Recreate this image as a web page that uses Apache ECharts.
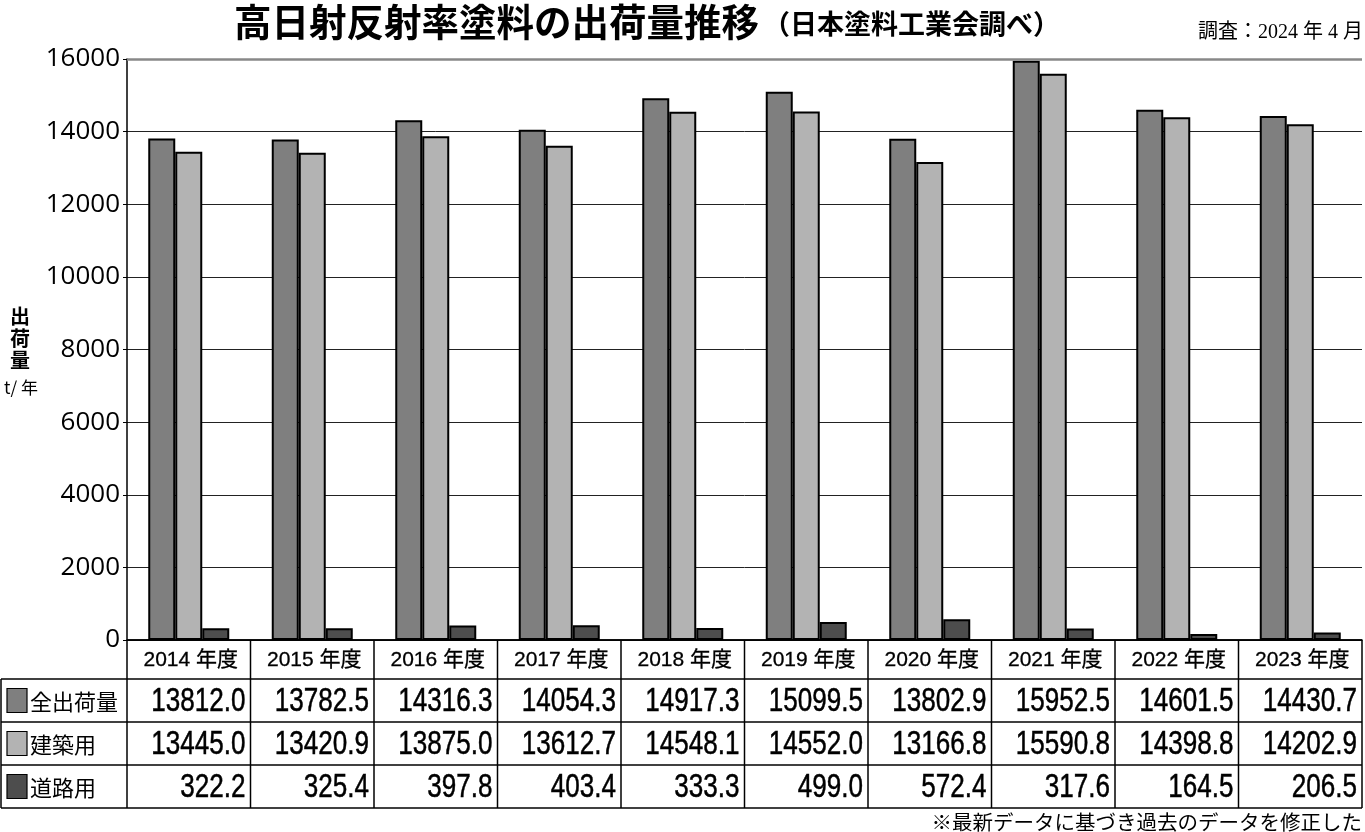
<!DOCTYPE html>
<html>
<head>
<meta charset="utf-8">
<script src="https://cdn.jsdelivr.net/npm/echarts@6/dist/echarts.min.js"></script>
<style>
html,body{margin:0;padding:0;background:#fff;}
#main{width:1365px;height:832px;}
</style>
</head>
<body>
<div id="main"></div>
<script>
// ---- data ----
const categories = ['2014 年度','2015 年度','2016 年度','2017 年度','2018 年度','2019 年度','2020 年度','2021 年度','2022 年度','2023 年度'];
const seriesNames = ['全出荷量','建築用','道路用'];
const totalShipment = [13812.0,13782.5,14316.3,14054.3,14917.3,15099.5,13802.9,15952.5,14601.5,14430.7];
const buildingUse = [13445.0,13420.9,13875.0,13612.7,14548.1,14552.0,13166.8,15590.8,14398.8,14202.9];
const roadUse = [322.2,325.4,397.8,403.4,333.3,499.0,572.4,317.6,164.5,206.5];
const yMin = 0, yMax = 16000, yStep = 2000;
const titleMain = '高日射反射率塗料の出荷量推移';
const titleSub = '（日本塗料工業会調べ）';
const surveyNote = '調査：2024 年 4 月';
const footNote = '※最新データに基づき過去のデータを修正した';
const yAxisName = ['出','荷','量'];
const yAxisUnit = 't/ 年';

// ---- styles ----
const colors = ['#7f7f7f','#b3b3b3','#4d4d4d'];
const SANS = '"Liberation Sans", Arial, "Noto Sans CJK JP", sans-serif';
const CJK = '"Noto Sans CJK JP", "Liberation Sans", sans-serif';

const chart = echarts.init(document.getElementById('main'), null, {renderer:'canvas'});
const seriesData = [totalShipment, buildingUse, roadUse];

const option = {
  backgroundColor:'#fff',
  animation:false,
  grid:{left:127, right:3, top:59, bottom:192, containLabel:false},
  xAxis:{
    type:'category', data:categories,
    axisLine:{show:true, lineStyle:{color:'#000', width:1.5}},
    axisTick:{show:false},
    axisLabel:{show:false},
    splitLine:{show:false}
  },
  yAxis:{
    type:'value', min:yMin, max:yMax, interval:yStep,
    axisLine:{show:true, lineStyle:{color:'#000', width:1.5}},
    axisTick:{show:true, length:4, lineStyle:{color:'#000'}},
    axisLabel:{color:'#000', fontSize:26, fontFamily:'"Open Sans", "Liberation Sans", sans-serif', margin:7,
      formatter:function(v){ return String(v); }},
    splitLine:{show:true, lineStyle:{color:'#222', width:1}}
  },
  series: seriesNames.map((name,i)=>({
    name:name, type:'bar', data:seriesData[i],
    barWidth:27, barGap:'0%',
    itemStyle:{color:colors[i], borderColor:'#000', borderWidth:2},
    markLine: i===0 ? {
      silent:true, symbol:'none', label:{show:false},
      lineStyle:{color:'#888', width:2.5, type:'solid'},
      data:[{yAxis:yMax}]
    } : undefined
  }))
};
chart.setOption(option);

// ---- table built from the axis layout ----
const c0 = chart.convertToPixel({xAxisIndex:0}, 0);
const c1 = chart.convertToPixel({xAxisIndex:0}, 1);
const colW = c1 - c0;
const gridLeft = c0 - colW/2;
const gridRight = gridLeft + colW*categories.length;
const y0 = chart.convertToPixel({yAxisIndex:0}, 0);
const headerH = 39, rowH = 43;
const rowTops = [y0 + headerH, y0 + headerH + rowH, y0 + headerH + 2*rowH];
const tableBottom = y0 + headerH + 3*rowH;
const lineStyle = {stroke:'#000', lineWidth:1.5};
const g = [];

// horizontal lines
g.push({type:'line', shape:{x1:gridLeft, y1:y0, x2:gridRight, y2:y0}, style:lineStyle});
rowTops.forEach(t=>g.push({type:'line', shape:{x1:1, y1:t, x2:gridRight, y2:t}, style:lineStyle}));
g.push({type:'line', shape:{x1:1, y1:tableBottom, x2:gridRight, y2:tableBottom}, style:lineStyle});
// vertical lines
for(let i=0;i<=categories.length;i++){
  const x = gridLeft + i*colW;
  g.push({type:'line', shape:{x1:x, y1:y0, x2:x, y2:tableBottom}, style:lineStyle});
}
g.push({type:'line', shape:{x1:1, y1:rowTops[0], x2:1, y2:tableBottom}, style:lineStyle});

// header labels
categories.forEach((c,i)=>{
  g.push({type:'text', x:chart.convertToPixel({xAxisIndex:0}, i)+2, y:y0 + headerH/2 + 1,
    style:{text:c, fill:'#000', font:'21px '+SANS, align:'center', verticalAlign:'middle', stroke:'#000', lineWidth:0.3}});
});
// row labels with legend boxes
seriesNames.forEach((n,r)=>{
  const cy = rowTops[r] + rowH/2;
  g.push({type:'rect', shape:{x:7, y:cy-12, width:20, height:24}, style:{fill:colors[r], stroke:'#000', lineWidth:1.2}});
  g.push({type:'text', x:30, y:cy+1, style:{text:n, fill:'#000', font:'22px '+CJK, align:'left', verticalAlign:'middle'}});
  seriesData[r].forEach((v,i)=>{
    const right = gridLeft + (i+1)*colW - 5;
    g.push({type:'text', x:right, y:cy+1, scaleX:0.79,
      style:{text:v.toFixed(1), fill:'#000', font:'33px '+SANS, align:'right', verticalAlign:'middle', stroke:'#000', lineWidth:0.5}});
  });
});

// y axis name
yAxisName.forEach((ch,k)=>{
  g.push({type:'text', x:20, y:316 + k*22, style:{text:ch, fill:'#000', font:'bold 20px '+CJK, align:'center', verticalAlign:'middle'}});
});
g.push({type:'text', x:21, y:388, style:{text:yAxisUnit, fill:'#000', font:'17px '+CJK, align:'center', verticalAlign:'middle'}});

// titles
g.push({type:'text', x:234, y:22, style:{
  text:'{a|'+titleMain+'}{b|'+titleSub+'}', verticalAlign:'middle', align:'left',
  rich:{a:{font:'bold 37.5px '+CJK, color:'#000'}, b:{font:'bold 27px '+CJK, color:'#000', padding:[4,0,0,4]}}
}});
g.push({type:'text', x:1363, y:33, style:{text:surveyNote, fill:'#000', font:'20px "Liberation Serif", "Noto Sans CJK JP", serif', align:'right', verticalAlign:'middle'}});
g.push({type:'text', x:1362, y:822, style:{text:footNote, fill:'#000', font:'20.5px '+CJK, align:'right', verticalAlign:'middle'}});

chart.setOption({graphic:g});
</script>
</body>
</html>
